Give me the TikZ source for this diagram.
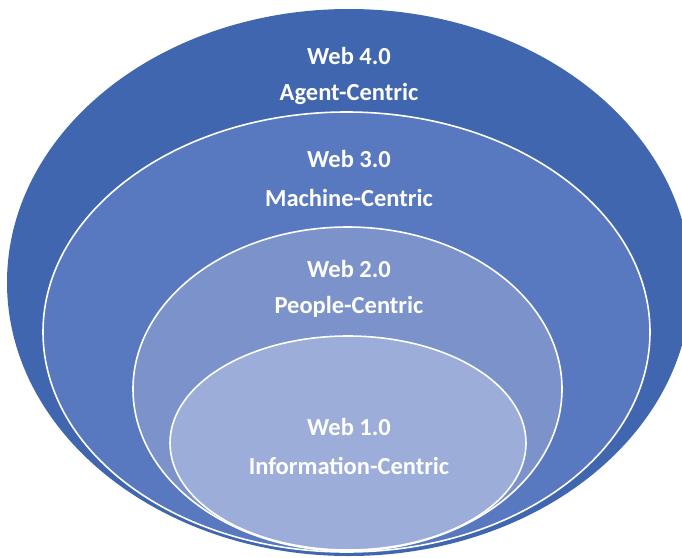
\documentclass[tikz,border=0pt]{standalone}
\usepackage{fontspec}
\setmainfont{Carlito}
\usetikzlibrary{shapes.geometric}
\definecolor{c4}{HTML}{4166B0}
\definecolor{c3}{HTML}{5879BF}
\definecolor{c2}{HTML}{7B92CB}
\definecolor{c1}{HTML}{9DADD9}
\tikzset{
  ring/.style={ellipse, inner sep=0pt, draw=white, line width=1.6pt},
  lbl/.style={anchor=base, text=white, font=\fontsize{24.5}{28}\selectfont\bfseries, inner sep=0pt}
}
\begin{document}
\begin{tikzpicture}[x=1pt,y=-1pt]
\useasboundingbox (0,0) rectangle (682,557);
\begin{scope}
\clip (0,0) rectangle (682,557);
\node[ellipse, inner sep=0pt, fill=c4, minimum width=684pt, minimum height=547pt] (w4) at (349,282.5) {};
\node[ring, fill=c3, minimum width=607pt, minimum height=440pt] (w3) at (346.5,332) {};
\node[ring, fill=c2, minimum width=429pt, minimum height=324pt] (w2) at (347.5,389) {};
\node[ring, fill=c1, minimum width=356pt, minimum height=214pt] (w1) at (348,443) {};
\end{scope}
\node[lbl] (t4a) at (349,64) {Web 4.0};
\node[lbl] (t4b) at (349,100) {Agent-Centric};
\node[lbl] (t3a) at (349,167) {Web 3.0};
\node[lbl] (t3b) at (349,206) {Machine-Centric};
\node[lbl] (t2a) at (349,277) {Web 2.0};
\node[lbl] (t2b) at (349,313) {People-Centric};
\node[lbl] (t1a) at (349,435) {Web 1.0};
\node[lbl] (t1b) at (349,474) {Information-Centric};
\end{tikzpicture}
\end{document}
